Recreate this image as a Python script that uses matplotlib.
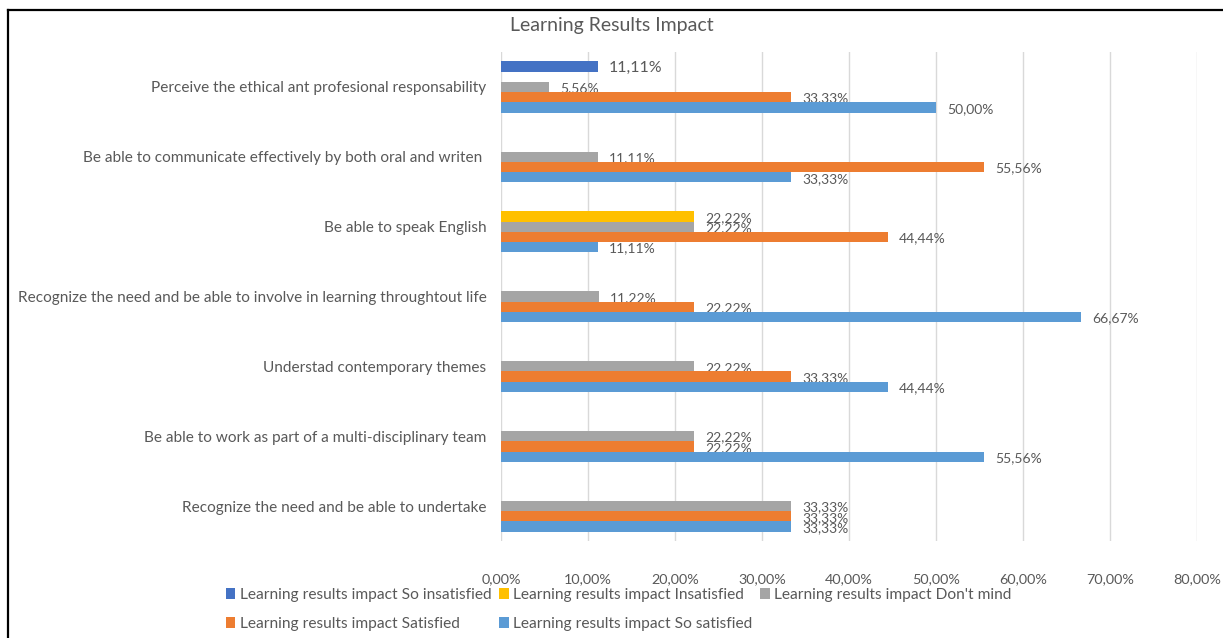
import numpy as np
import matplotlib.pyplot as plt
from matplotlib.lines import Line2D
from matplotlib.ticker import FuncFormatter

# categories from bottom to top (Excel order)
categories = [
    "Recognize the need and be able to undertake",
    "Be able to work as part of a multi-disciplinary team",
    "Understad contemporary themes",
    "Recognize the need and be able to involve in learning throughtout life",
    "Be able to speak English",
    "Be able to communicate effectively by both oral and writen ",
    "Perceive the ethical ant profesional responsability",
]

series_names = [
    "Learning results impact So insatisfied",
    "Learning results impact Insatisfied",
    "Learning results impact Don't mind",
    "Learning results impact Satisfied",
    "Learning results impact So satisfied",
]

so_insatisfied = [0, 0, 0, 0, 0, 0, 11.11]
insatisfied = [0, 0, 0, 0, 22.22, 0, 0]
dont_mind = [33.33, 22.22, 22.22, 11.22, 22.22, 11.11, 5.56]
satisfied = [33.33, 22.22, 33.33, 22.22, 44.44, 55.56, 33.33]
so_satisfied = [33.33, 55.56, 44.44, 66.67, 11.11, 33.33, 50.00]

colors = ["#4472C4", "#FFC000", "#A5A5A5", "#ED7D31", "#5B9BD5"]
text_color = "#595959"

plt.rcParams['font.family'] = ['Lato', 'DejaVu Sans']

W, H = 1223, 638
fig = plt.figure(figsize=(W / 100, H / 100), dpi=100)
ax = fig.add_axes([501 / W, 1 - 541 / H, (1197 - 501) / W, (541 - 52) / H])

all_series = [so_insatisfied, insatisfied, dont_mind, satisfied, so_satisfied]
y = np.arange(len(categories))
h = 0.147
handles = []
for i, (vals, col, name) in enumerate(zip(all_series, colors, series_names)):
    vals = np.array(vals) / 100
    pos = y + (2 - i) * h
    b = ax.barh(pos, vals, height=h, color=col, label=name, zorder=3)
    handles.append(b)
    fs = 11.5 if i == 0 else 10
    for p, v in zip(pos, vals):
        if v > 0:
            ax.annotate(f"{v * 100:.2f}%".replace(".", ","), (v, p),
                        xytext=(8, -1), textcoords="offset points",
                        va="center", ha="left", fontsize=fs, color=text_color)

ax.set_xlim(0, 0.8)
ax.set_ylim(-0.5, len(categories) - 0.5)
ax.set_xticks(np.arange(0, 0.81, 0.1))
ax.xaxis.set_major_formatter(FuncFormatter(lambda v, _: f"{v * 100:.2f}%".replace(".", ",")))
ax.set_yticks(y)
ax.set_yticklabels(categories)
ax.tick_params(axis="x", length=0, colors=text_color, labelsize=10.4, pad=23)
ax.tick_params(axis="y", length=0, colors=text_color, labelsize=11.1, pad=10.5)
ax.grid(axis="x", color="#D9D9D9", linewidth=1, zorder=0)
for s in ax.spines.values():
    s.set_visible(False)

fig.text(612 / W, 1 - 26 / H, "Learning Results Impact", ha="center", va="center",
         fontsize=14, color=text_color)

# legend: row 1 -> first three series, row 2 -> last two
order = [0, 3, 1, 4, 2]
leg = fig.legend([handles[k] for k in order], [series_names[k] for k in order],
                 ncol=3, loc="upper left", bbox_to_anchor=(218 / W, 1 - 580 / H),
                 frameon=False, fontsize=11.2, handlelength=0.6, handleheight=0.7,
                 handletextpad=0.3, columnspacing=0.5, labelspacing=0.95,
                 borderpad=0, labelcolor=text_color)

# outer border (left and top edges visible)
fig.add_artist(Line2D([8 / W, 8 / W], [0, 1 - 10 / H], color="black", linewidth=1.6,
                      transform=fig.transFigure))
fig.add_artist(Line2D([8 / W, 1], [1 - 10 / H, 1 - 10 / H], color="black", linewidth=1.6,
                      transform=fig.transFigure))

fig.savefig("out.png", dpi=100)
